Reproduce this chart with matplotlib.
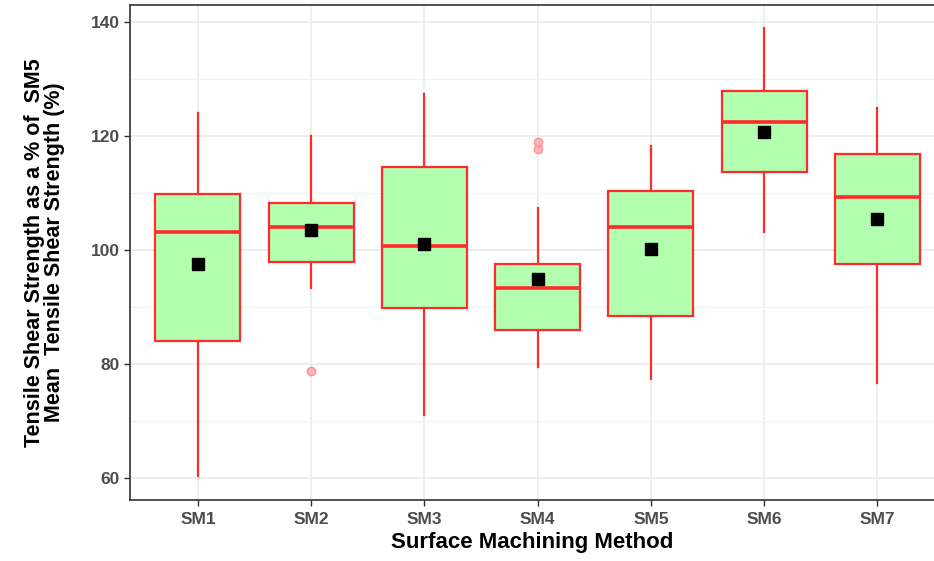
import matplotlib
matplotlib.use("Agg")
import matplotlib.pyplot as plt
from matplotlib.ticker import MultipleLocator

categories = ["SM1", "SM2", "SM3", "SM4", "SM5", "SM6", "SM7"]
whisker_low = [60.4, 93.3, 71.0, 79.4, 77.3, 103.1, 76.6]
q1 = [84.0, 97.9, 89.8, 86.0, 88.4, 113.7, 97.6]
median = [103.1, 104.0, 100.7, 93.3, 104.0, 122.5, 109.3]
q3 = [109.9, 108.3, 114.6, 97.6, 110.3, 127.9, 116.9]
whisker_high = [124.0, 120.0, 127.3, 107.4, 118.2, 139.0, 125.0]
means = [97.6, 103.5, 101.1, 94.9, 100.2, 120.7, 105.5]
outliers = [[], [78.8], [], [117.8, 119.0], [], [], []]
yticks = [60, 80, 100, 120, 140]

plt.rcParams['font.family'] = ['Liberation Sans', 'DejaVu Sans']

fig = plt.figure(figsize=(9.34, 5.61), dpi=100)
ax = fig.add_axes([130/934, 61/561, 804/934, 495/561])

stats = []
for i, c in enumerate(categories):
    stats.append(dict(label=c, whislo=whisker_low[i], q1=q1[i], med=median[i],
                      q3=q3[i], whishi=whisker_high[i], mean=means[i], fliers=outliers[i]))

red = '#ff2a2a'
ax.bxp(stats, positions=range(1, len(categories)+1), widths=0.75, patch_artist=True,
       showmeans=True, showcaps=False,
       boxprops=dict(facecolor='#b3ffb0', edgecolor=red, linewidth=1.6),
       medianprops=dict(color=red, linewidth=2.6),
       whiskerprops=dict(color=red, linewidth=1.6),
       flierprops=dict(marker='o', markerfacecolor='#ffb0b0', markeredgecolor='#ff8a8a',
                       markersize=6, alpha=0.9),
       meanprops=dict(marker='s', markerfacecolor='black', markeredgecolor='black',
                      markersize=8), zorder=3)

ax.set_xlim(0.4, 7.5)
ax.set_ylim(56.1, 143.0)
ax.set_yticks(yticks)
ax.yaxis.set_minor_locator(MultipleLocator(10))
ax.set_xticks(range(1, len(categories)+1))
ax.set_xticklabels(categories)

ax.grid(True, which='major', color='#ebebeb', linewidth=1.2, zorder=0)
ax.grid(True, which='minor', axis='y', color='#f2f2f2', linewidth=0.8, zorder=0)
ax.set_axisbelow(True)

for s in ax.spines.values():
    s.set_color('#333333')
    s.set_linewidth(1.2)
ax.spines['right'].set_visible(False)

ax.tick_params(axis='both', which='major', length=4, color='#333333', width=1,
               labelsize=12.5, labelcolor='#4d4d4d')
ax.tick_params(axis='x', which='major', pad=5)
ax.tick_params(axis='y', which='minor', length=0)
for lab in ax.get_xticklabels() + ax.get_yticklabels():
    lab.set_fontweight('bold')

ax.set_xlabel("Surface Machining Method", fontsize=16, fontweight='bold', labelpad=3)
ax.set_ylabel("Tensile Shear Strength as a % of  SM5\nMean  Tensile Shear Strength (%)",
              fontsize=15.5, fontweight='bold', labelpad=18, linespacing=0.95)

fig.savefig("out.png", dpi=100)
